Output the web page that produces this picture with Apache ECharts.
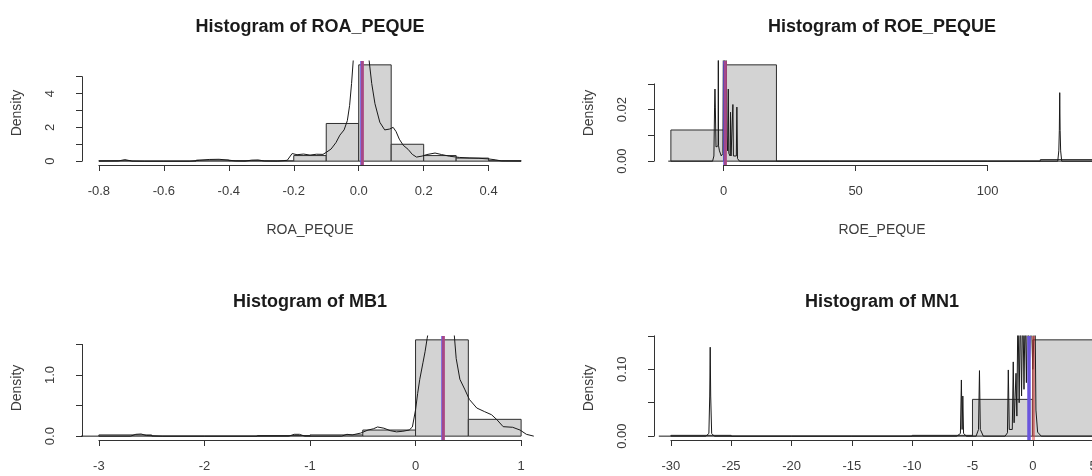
<!DOCTYPE html>
<html>
<head>
<meta charset="utf-8">
<script src="https://cdn.jsdelivr.net/npm/echarts@6/dist/echarts.min.js"></script>
<style>
  html, body { margin: 0; padding: 0; background: #ffffff; overflow: hidden; }
  /* the right-hand plots run past the visible window edge */
  #chart { width: 1130px; height: 476px; }
</style>
</head>
<body>
<div id="chart"></div>
<script>
// ---- ROA_PEQUE ----
const roaBreaks  = [-0.8, -0.7, -0.6, -0.5, -0.4, -0.3, -0.2, -0.1, 0.0, 0.1, 0.2, 0.3, 0.4, 0.5];
const roaDensity = [0.03, 0, 0, 0.06, 0.03, 0.02, 0.33, 2.23, 5.70, 1.00, 0.33, 0.18, 0.03];
const roaKde = [
  [-0.80, 0], [-0.74, 0.01], [-0.72, 0.09], [-0.70, 0.01], [-0.66, 0], [-0.52, 0],
  [-0.49, 0.05], [-0.46, 0.10], [-0.43, 0.11], [-0.40, 0.06], [-0.38, 0.01], [-0.35, 0],
  [-0.33, 0.06], [-0.31, 0.07], [-0.29, 0.01], [-0.25, 0], [-0.22, 0.05], [-0.205, 0.45],
  [-0.19, 0.38], [-0.17, 0.42], [-0.15, 0.36], [-0.13, 0.41], [-0.11, 0.40], [-0.10, 0.52],
  [-0.085, 0.72], [-0.07, 1.10], [-0.058, 1.54], [-0.045, 1.85], [-0.035, 2.40], [-0.028, 3.30],
  [-0.022, 4.60], [-0.016, 6.20], [-0.01, 7.80], [0.005, 9.10], [0.02, 8.00], [0.03, 6.30],
  [0.04, 4.60], [0.05, 3.40], [0.065, 2.30], [0.08, 1.85], [0.095, 1.90], [0.106, 2.00],
  [0.115, 1.75], [0.125, 1.30], [0.137, 0.94], [0.152, 0.70], [0.165, 0.40], [0.178, 0.24],
  [0.195, 0.30], [0.21, 0.39], [0.235, 0.48], [0.255, 0.39], [0.28, 0.29], [0.31, 0.22],
  [0.34, 0.19], [0.37, 0.17], [0.40, 0.13], [0.42, 0.08], [0.44, 0.01], [0.50, 0]
];
const roaMean = 0.012, roaMedian = 0.012;
const roaXTicks  = [-0.8, -0.6, -0.4, -0.2, 0.0, 0.2, 0.4];
const roaXLabels = ['-0.8', '-0.6', '-0.4', '-0.2', '0.0', '0.2', '0.4'];
const roaYTicks  = [0, 1, 2, 3, 4, 5];
const roaYLabels = ['0', '', '2', '', '4', ''];

// ---- ROE_PEQUE ----
const roeBreaks  = [-20, 0, 20, 40, 60, 80, 100, 120, 140];
const roeDensity = [0.0121, 0.0374, 0, 0, 0, 0, 0, 0.0006];
const roeKde = [
  [-21, 0], [-4.2, 0], [-3.7, 0.002], [-3.45, 0.021], [-3.3, 0.028], [-3.15, 0.021],
  [-2.9, 0.0055], [-2.3, 0.005], [-2.1, 0.006], [-2.02, 0.06], [-1.95, 0.006], [-1.6, 0.004],
  [-0.9, 0.002], [-0.3, 0.003], [0.0, 0.07], [0.4, 0.02], [0.8, 0.07], [1.2, 0.01],
  [1.5, 0.004], [1.75, 0.028], [1.95, 0.003], [2.45, 0.002], [2.6, 0.019], [2.8, 0.002],
  [3.3, 0.002], [3.5, 0.022], [3.7, 0.002], [4.8, 0.002], [5.0, 0.021], [5.25, 0.001],
  [6.0, 0], [126.6, 0], [127.0, 0.004], [127.2, 0.012], [127.35, 0.0266], [127.5, 0.012],
  [127.7, 0.004], [128.1, 0], [150, 0]
];
const roeMean = 0.5, roeMedian = 0.5;
const roeXTicks  = [0, 50, 100];
const roeXLabels = ['0', '50', '100'];
const roeYTicks  = [0, 0.01, 0.02, 0.03];
const roeYLabels = ['0.00', '', '0.02', ''];

// ---- MB1 ----
const mbBreaks  = [-3, -2.5, -2, -1.5, -1, -0.5, 0, 0.5, 1];
const mbDensity = [0.02, 0, 0, 0.01, 0.02, 0.10, 1.575, 0.275];
const mbKde = [
  [-3.2, 0], [-2.7, 0], [-2.65, 0.03], [-2.6, 0.035], [-2.55, 0.01], [-2.4, 0], [-1.2, 0],
  [-1.15, 0.03], [-1.1, 0.03], [-1.05, 0], [-0.7, 0], [-0.65, 0.03], [-0.6, 0.02],
  [-0.52, 0.05], [-0.45, 0.10], [-0.40, 0.12], [-0.36, 0.15], [-0.30, 0.13], [-0.24, 0.09],
  [-0.18, 0.07], [-0.12, 0.08], [-0.06, 0.10], [-0.03, 0.15], [0.0, 0.43], [0.02, 0.70],
  [0.04, 0.93], [0.07, 1.20], [0.09, 1.38], [0.11, 1.60], [0.13, 1.80], [0.25, 2.30],
  [0.36, 1.80], [0.385, 1.27], [0.42, 0.93], [0.465, 0.77], [0.51, 0.60], [0.58, 0.46],
  [0.655, 0.40], [0.72, 0.35], [0.77, 0.27], [0.83, 0.155], [0.92, 0.145], [0.99, 0.10],
  [1.05, 0.03], [1.12, 0]
];
const mbMean = 0.26, mbMedian = 0.26;
const mbXTicks  = [-3, -2, -1, 0, 1];
const mbXLabels = ['-3', '-2', '-1', '0', '1'];
const mbYTicks  = [0, 0.5, 1.0, 1.5];
const mbYLabels = ['0.0', '', '1.0', ''];

// ---- MN1 ----
const mnBreaks  = [-30, -25, -20, -15, -10, -5, 0, 5];
const mnDensity = [0.0012, 0, 0, 0, 0.0012, 0.055, 0.144];
const mnKde = [
  [-31, 0], [-27.1, 0], [-26.85, 0.004], [-26.78, 0.06], [-26.74, 0.133], [-26.70, 0.06],
  [-26.62, 0.004], [-26.4, 0], [-6.3, 0], [-6.0, 0.004], [-5.92, 0.084], [-5.86, 0.01],
  [-5.80, 0.06], [-5.74, 0.004], [-5.5, 0], [-4.7, 0], [-4.5, 0.01], [-4.42, 0.098],
  [-4.35, 0.01], [-4.1, 0], [-2.3, 0], [-2.1, 0.005], [-2.03, 0.099], [-1.95, 0.01],
  [-1.7, 0.01], [-1.62, 0.111], [-1.55, 0.02], [-1.45, 0.02], [-1.39, 0.094], [-1.32, 0.03],
  [-1.23, 0.20], [-1.13, 0.05], [-1.03, 0.20], [-0.93, 0.06], [-0.83, 0.21], [-0.73, 0.07],
  [-0.63, 0.20], [-0.53, 0.08], [-0.43, 0.22], [-0.30, 0.09], [-0.15, 0.20], [0.0, 0.10],
  [0.18, 0.20], [0.26, 0.039], [0.4, 0.006], [0.7, 0], [7, 0]
];
const mnMean = -0.35, mnMedian = 0.0;
const mnXTicks  = [-30, -25, -20, -15, -10, -5, 0, 5];
const mnXLabels = ['-30', '-25', '-20', '-15', '-10', '-5', '0', '5'];
const mnYTicks  = [0, 0.05, 0.10, 0.15];
const mnYLabels = ['0.00', '', '0.10', ''];

const titles = ['Histogram of ROA_PEQUE', 'Histogram of ROE_PEQUE', 'Histogram of MB1', 'Histogram of MN1'];
const xNames = ['ROA_PEQUE', 'ROE_PEQUE'];
const yName = 'Density';

// ---- layout (R-style 2x2 figure, plot regions) ----
const PLOT_W = 456, PLOT_H = 104;
const origins = [[82, 61], [654, 61], [82, 336], [654, 336]];
const FONT = '"Liberation Sans", Arial, sans-serif';
const AXIS_COLOR = '#333333';
const TEXT_COLOR = '#3c3c3c';
const MEAN_COLOR = '#6a55dd';
const MEDIAN_COLOR = 'rgba(220, 60, 60, 0.5)';

const panels = [
  { title: titles[0], xName: xNames[0], breaks: roaBreaks, dens: roaDensity, kde: roaKde, mean: roaMean, median: roaMedian,
    xTicks: roaXTicks, xLabels: roaXLabels, yTicks: roaYTicks, yLabels: roaYLabels },
  { title: titles[1], xName: xNames[1], breaks: roeBreaks, dens: roeDensity, kde: roeKde, mean: roeMean, median: roeMedian,
    xTicks: roeXTicks, xLabels: roeXLabels, yTicks: roeYTicks, yLabels: roeYLabels },
  { title: titles[2], xName: null, breaks: mbBreaks, dens: mbDensity, kde: mbKde, mean: mbMean, median: mbMedian,
    xTicks: mbXTicks, xLabels: mbXLabels, yTicks: mbYTicks, yLabels: mbYLabels },
  { title: titles[3], xName: null, breaks: mnBreaks, dens: mnDensity, kde: mnKde, mean: mnMean, median: mnMedian,
    xTicks: mnXTicks, xLabels: mnXLabels, yTicks: mnYTicks, yLabels: mnYLabels }
];

const grid = [], xAxis = [], yAxis = [], series = [], graphic = [];

function labelFormatter(ticks, labels) {
  const t0 = ticks[0], step = ticks[1] - ticks[0];
  return function (v) {
    const k = Math.round((v - t0) / step);
    return labels[k] !== undefined ? labels[k] : '';
  };
}

panels.forEach(function (p, i) {
  const left = origins[i][0], top = origins[i][1];
  const xlo = p.breaks[0], xhi = p.breaks[p.breaks.length - 1];
  const xpad = 0.04 * (xhi - xlo);
  const xmin = xlo - xpad, xmax = xhi + xpad;
  const yTop = Math.max.apply(null, p.dens);
  const ymin = -0.04 * yTop, ymax = 1.04 * yTop;
  const px = v => left + (v - xmin) / (xmax - xmin) * PLOT_W;
  const py = v => top + (ymax - v) / (ymax - ymin) * PLOT_H;

  // plotting region
  const gData = grid.length;
  grid.push({ left: left, top: top, width: PLOT_W, height: PLOT_H });
  xAxis.push({ gridIndex: gData, type: 'value', min: xmin, max: xmax, show: false });
  yAxis.push({ gridIndex: gData, type: 'value', min: ymin, max: ymax, show: false });

  // x axis spanning first to last tick
  const xt = p.xTicks, gx = grid.length;
  grid.push({ left: px(xt[0]), width: px(xt[xt.length - 1]) - px(xt[0]), top: top + PLOT_H - 10, height: 10 });
  xAxis.push({
    gridIndex: gx, type: 'value', position: 'bottom',
    min: xt[0], max: xt[xt.length - 1], interval: xt[1] - xt[0],
    axisLine: { show: true, onZero: false, lineStyle: { color: AXIS_COLOR, width: 1 } },
    axisTick: { show: true, length: 6, lineStyle: { color: AXIS_COLOR, width: 1 } },
    splitLine: { show: false },
    axisLabel: { show: true, margin: 20, fontSize: 13, fontFamily: FONT, color: TEXT_COLOR,
                 showMinLabel: true, showMaxLabel: true, hideOverlap: false,
                 formatter: labelFormatter(xt, p.xLabels) }
  });
  yAxis.push({ gridIndex: gx, type: 'value', min: 0, max: 1, show: false });

  // y axis spanning first to last tick
  const yt = p.yTicks, gy = grid.length;
  grid.push({ left: left, width: 10, top: py(yt[yt.length - 1]), height: py(yt[0]) - py(yt[yt.length - 1]) });
  xAxis.push({ gridIndex: gy, type: 'value', min: 0, max: 1, show: false });
  yAxis.push({
    gridIndex: gy, type: 'value', position: 'left',
    min: yt[0], max: yt[yt.length - 1], interval: yt[1] - yt[0],
    axisLine: { show: true, onZero: false, lineStyle: { color: AXIS_COLOR, width: 1 } },
    axisTick: { show: true, length: 6, lineStyle: { color: AXIS_COLOR, width: 1 } },
    splitLine: { show: false },
    axisLabel: { show: true, rotate: 90, margin: 25, fontSize: 13, fontFamily: FONT, color: TEXT_COLOR,
                 showMinLabel: true, showMaxLabel: true, hideOverlap: false,
                 formatter: labelFormatter(yt, p.yLabels) }
  });

  // histogram bars
  series.push({
    type: 'custom', xAxisIndex: gData, yAxisIndex: gData, clip: true, z: 1, silent: true,
    data: p.dens.map((d, k) => [p.breaks[k], p.breaks[k + 1], d]),
    encode: { x: [0, 1], y: 2 },
    renderItem: function (params, api) {
      const a = api.coord([api.value(0), 0]);
      const b = api.coord([api.value(1), api.value(2)]);
      return {
        type: 'rect',
        shape: { x: a[0], y: b[1], width: b[0] - a[0], height: a[1] - b[1] },
        style: { fill: '#d3d3d3', stroke: '#2e2e2e', lineWidth: 1 }
      };
    }
  });

  // kernel density curve
  series.push({
    type: 'line', xAxisIndex: gData, yAxisIndex: gData, clip: true, z: 2, silent: true,
    data: p.kde, showSymbol: false, symbol: 'none', smooth: false,
    lineStyle: { color: '#1a1a1a', width: 1 }
  });

  // mean and median reference lines
  series.push({
    type: 'line', xAxisIndex: gData, yAxisIndex: gData, z: 3, silent: true, data: [],
    markLine: {
      silent: true, symbol: ['none', 'none'], label: { show: false }, animation: false,
      data: [
        { xAxis: p.mean, lineStyle: { color: MEAN_COLOR, width: 3.5, type: 'solid' } },
        { xAxis: p.median, lineStyle: { color: MEDIAN_COLOR, width: 3, type: 'solid' } }
      ]
    }
  });

  // titles and axis names
  const cx = left + PLOT_W / 2;
  graphic.push({
    type: 'text', x: cx, y: top - 34, silent: true,
    style: { text: p.title, font: 'bold 18px ' + FONT, fill: '#1a1a1a',
             textAlign: 'center', textVerticalAlign: 'middle', align: 'center', verticalAlign: 'middle' }
  });
  if (p.xName) {
    graphic.push({
      type: 'text', x: cx, y: top + PLOT_H + 65, silent: true,
      style: { text: p.xName, font: '14px ' + FONT, fill: TEXT_COLOR,
               textAlign: 'center', textVerticalAlign: 'middle', align: 'center', verticalAlign: 'middle' }
    });
  }
  graphic.push({
    type: 'text', x: left - 65, y: top + PLOT_H / 2, rotation: Math.PI / 2, silent: true,
    style: { text: yName, font: '14px ' + FONT, fill: TEXT_COLOR,
             textAlign: 'center', textVerticalAlign: 'middle', align: 'center', verticalAlign: 'middle' }
  });
});

const chart = echarts.init(document.getElementById('chart'), null, { renderer: 'canvas' });
chart.setOption({
  animation: false,
  backgroundColor: '#ffffff',
  grid: grid,
  xAxis: xAxis,
  yAxis: yAxis,
  series: series,
  graphic: graphic
});
</script>
</body>
</html>
